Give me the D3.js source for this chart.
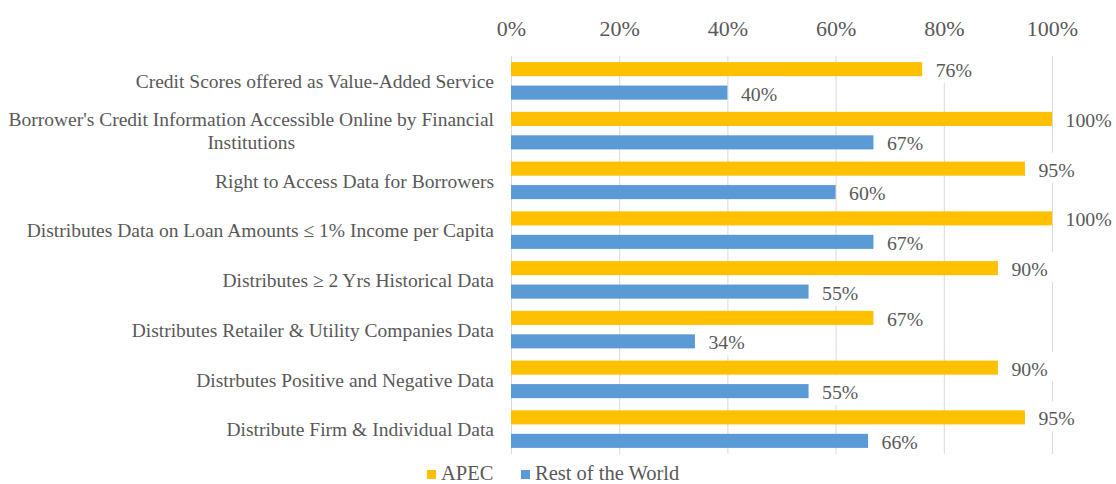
<!DOCTYPE html>
<html>
<head>
<meta charset="utf-8">
<script src="https://cdn.jsdelivr.net/npm/d3@7"></script>
<style>
	body { margin: 0; background: #fff; }
	text { font-family: "Liberation Serif", "Times New Roman", serif; fill: #595959; }
</style>
</head>
<body>
<div id="chart"></div>
<script>
/* grouped horizontal bars, APEC vs rest of the world */

const categories = [
	"Credit Scores offered as Value-Added Service",
	"Borrower's Credit Information Accessible Online by Financial Institutions",
	"Right to Access Data for Borrowers",
	"Distributes Data on Loan Amounts \u2264 1% Income per Capita",
	"Distributes \u2265 2 Yrs Historical Data",
	"Distributes Retailer & Utility Companies Data",
	"Distrbutes Positive and Negative Data",
	"Distribute Firm & Individual Data"
]
const seriesNames = ["APEC", "Rest of the World"]
const apecValues = [76, 100, 95, 100, 90, 67, 90, 95]
const worldValues = [40, 67, 60, 67, 55, 34, 55, 66]
const tickValues = [0, 20, 40, 60, 80, 100]

const colors = { "APEC": "#FFC000", "Rest of the World": "#5B9BD5" }

const width = 1116
const height = 484
const plotLeft = 511, plotRight = 1052, plotTop = 56, plotBottom = 454

//rows for the bars
const rows = categories.map(function(c, i) {
	return { cat: c, values: [
		{ key: seriesNames[0], v: apecValues[i] },
		{ key: seriesNames[1], v: worldValues[i] }
	] }
})

const svg = d3.select('#chart').append('svg')
	.attr('width', width)
	.attr('height', height)

const x = d3.scaleLinear().domain([0, 100]).range([plotLeft, plotRight])
const y0 = d3.scaleBand().domain(categories).range([plotTop, plotBottom]).paddingInner(0)
const y1 = d3.scaleBand().domain(seriesNames).range([0, y0.bandwidth()])
	.paddingInner(0.4).paddingOuter(0.26)

//vertical grid lines
const grid = svg.append('g')
	.attr('transform', `translate(0,${plotBottom})`)
	.call(d3.axisTop(x).tickValues(tickValues).tickSize(plotBottom - plotTop).tickFormat(''))
grid.select('.domain').remove()
grid.selectAll('line').attr('stroke', '#D9D9D9')

//top axis labels
const xAxis = svg.append('g')
	.attr('transform', `translate(0,${plotTop})`)
	.call(d3.axisTop(x).tickValues(tickValues).tickSize(0).tickPadding(20.5).tickFormat(function(d) { return d + '%' }))
xAxis.select('.domain').remove()
xAxis.selectAll('text')
	.style('font-size', '22px')
	.style('font-family', '"Liberation Serif", serif')
	.attr('fill', '#595959')

//category labels (wrap the long one, second line centred under the first)
const yAxis = svg.append('g')
yAxis.selectAll('g.cat')
	.data(categories)
	.enter().append('text')
	.attr('class', 'cat')
	.style('font-size', '19.5px')
	.each(function(d) {
		const t = d3.select(this)
		const cy = y0(d) + y0.bandwidth() / 2
		const words = d.split(' ')
		let line = []
		let lines = []
		const probe = t.append('tspan')
		words.forEach(function(w) {
			probe.text(line.concat([w]).join(' '))
			if (probe.node().getComputedTextLength() > 492 && line.length) {
				lines.push(line.join(' '))
				line = [w]
			} else {
				line.push(w)
			}
		})
		lines.push(line.join(' '))
		probe.remove()
		const lh = 23
		const y = cy - lh * (lines.length - 1) / 2 + 7.2
		const first = t.append('tspan').attr('x', plotLeft - 17).attr('y', y)
			.attr('text-anchor', 'end').text(lines[0])
		const w0 = first.node().getComputedTextLength()
		lines.slice(1).forEach(function(l, i) {
			t.append('tspan').attr('x', plotLeft - 17 - w0 / 2)
				.attr('y', y + lh * (i + 1))
				.attr('text-anchor', 'middle').text(l)
		})
	})

//bars
const groups = svg.append('g').selectAll('g.row')
	.data(rows)
	.enter().append('g')
	.attr('class', 'row')
	.attr('transform', function(d) { return `translate(0,${y0(d.cat)})` })

groups.selectAll('rect.bar')
	.data(function(d) { return d.values })
	.enter().append('rect')
	.attr('class', 'bar')
	.attr('x', x(0))
	.attr('y', function(d) { return y1(d.key) })
	.attr('width', function(d) { return x(d.v) - x(0) })
	.attr('height', y1.bandwidth())
	.attr('fill', function(d) { return colors[d.key] })

//data labels with white boxes, drawn on top of all bars
const labelG = svg.append('g')
const flat = []
rows.forEach(function(r) {
	r.values.forEach(function(v) {
		flat.push({ key: v.key, v: v.v, cy: y0(r.cat) + y1(v.key) + y1.bandwidth() / 2 })
	})
})
const labels = labelG.selectAll('g.lab')
	.data(flat)
	.enter().append('g')
	.attr('class', 'lab')
labels.append('rect').attr('fill', '#fff')
labels.append('text')
	.attr('x', function(d) { return x(d.v) + 13.5 })
	.attr('y', function(d) { return d.cy + 8 })
	.style('font-size', '19.8px')
	.text(function(d) { return d.v + '%' })
labels.each(function(d) {
	const g = d3.select(this)
	const w = g.select('text').node().getComputedTextLength()
	g.select('rect')
		.attr('x', x(d.v) + 7)
		.attr('y', d.cy - 16)
		.attr('width', w + 13)
		.attr('height', 30)
})

//legend
const legendX = [427, 521]
const legend = svg.append('g').attr('transform', 'translate(0,475)')
const item = legend.selectAll('g')
	.data(seriesNames)
	.enter().append('g')
	.attr('transform', function(d, i) { return `translate(${legendX[i]},0)` })
item.append('rect')
	.attr('x', 0).attr('y', -5)
	.attr('width', 9).attr('height', 9)
	.attr('fill', function(d) { return colors[d] })
item.append('text')
	.attr('x', 14)
	.attr('y', 5)
	.style('font-size', '20.5px')
	.text(function(d) { return d })
</script>
</body>
</html>
